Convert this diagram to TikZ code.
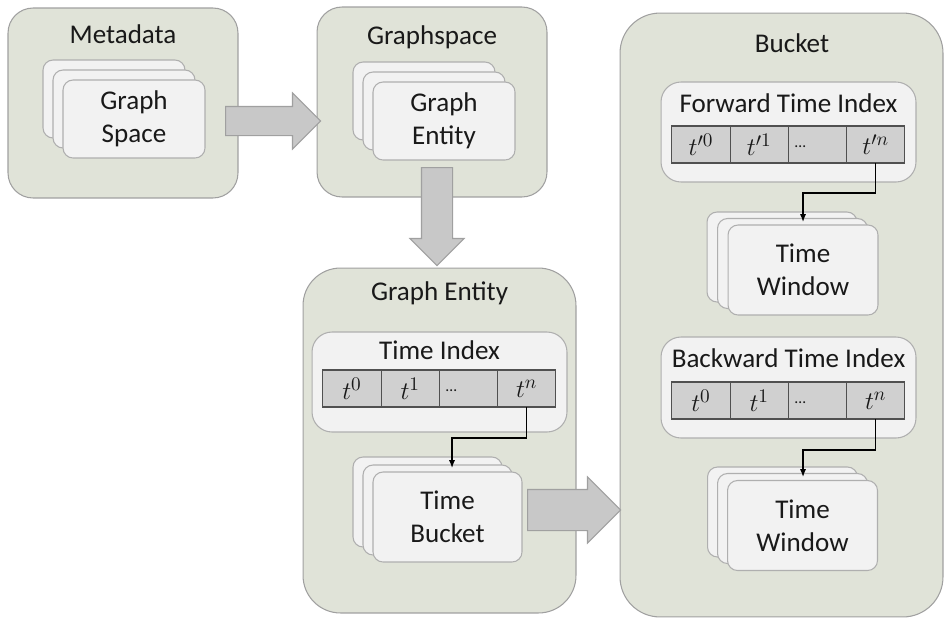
\documentclass[tikz,border=0pt]{standalone}
\usepackage{fontspec}
\setmainfont{Carlito}
\usetikzlibrary{positioning,shapes.arrows,arrows.meta}
\definecolor{boxfill}{RGB}{224,227,216}
\definecolor{boxline}{RGB}{160,160,160}
\definecolor{cardfill}{RGB}{242,242,242}
\definecolor{cardline}{RGB}{175,175,175}
\definecolor{cellfill}{RGB}{208,208,208}
\definecolor{cellline}{RGB}{80,80,80}
\definecolor{arrowfill}{RGB}{200,200,200}
\definecolor{arrowline}{RGB}{160,160,160}
\tikzset{
 outer/.style={draw=boxline,fill=boxfill,rounded corners=0.5cm,line width=0.6pt,inner sep=0pt},
 panel/.style={draw=cardline,fill=cardfill,rounded corners=0.4cm,line width=0.6pt,minimum width=5.1cm,minimum height=2cm},
 card/.style={draw=cardline,fill=cardfill,rounded corners=0.2cm,line width=0.6pt,align=center},
 cell/.style={draw=cellline,fill=cellfill,line width=0.6pt,minimum width=1.165cm,minimum height=0.74cm,inner sep=0pt,outer sep=0pt},
 dots/.style={cell,text width=0.9cm,align=left},
 fatarrow/.style={single arrow,draw=arrowline,fill=arrowfill,line width=0.6pt,inner xsep=0pt,minimum width=0pt,anchor=tail},
 link/.style={-{Latex[length=4.5pt,width=3.5pt]},line width=0.7pt},
 title/.style={inner sep=0pt}
}
\newcommand{\celldots}{\raisebox{-3pt}{\small …}}
\begin{document}
\begin{tikzpicture}[x=0.02cm,y=-0.02cm,font=\fontsize{15.4}{19}\selectfont,text=black!90]
 \useasboundingbox (0,0) rectangle (945,619);
 % outer boxes
 \node[outer,minimum width=4.6cm,minimum height=3.8cm] (meta) at (123,103) {};
 \node[outer,minimum width=4.6cm,minimum height=3.8cm] (gspace) at (432,102) {};
 \node[outer,minimum width=5.46cm,minimum height=6.9cm,rounded corners=0.75cm] (gentity) at (439.5,440.5) {};
 \node[outer,minimum width=6.46cm,minimum height=12.08cm,rounded corners=0.8cm] (bucket) at (781.5,315) {};
 \node[title] (metaT) at (123,34) {Metadata};
 \node[title] (gspaceT) at (432,37) {Graphspace};
 \node[title] (gentityT) at (439.5,293) {Graph Entity};
 \node[title] (bucketT) at (792,43) {Bucket};
 % Metadata
 \node[card,minimum width=2.84cm,minimum height=1.56cm] (gsp3) at (114,99) {};
 \node[card,minimum width=2.84cm,minimum height=1.56cm] (gsp2) at (124,109) {};
 \node[card,minimum width=2.84cm,minimum height=1.56cm] (gsp1) at (134,119) {Graph\\Space};
 % Graphspace
 \node[card,minimum width=2.84cm,minimum height=1.56cm] (gen3) at (424,101) {};
 \node[card,minimum width=2.84cm,minimum height=1.56cm] (gen2) at (434,111) {};
 \node[card,minimum width=2.84cm,minimum height=1.56cm] (gen1) at (444,121) {Graph\\Entity};
 % Graph Entity
 \node[panel] (tidx) at (439.5,382) {};
 \node[title] (tidxT) at (439.5,350) {Time Index};
 \node[cell] (ti1) at (352,388.5) {$t^{0}$};
 \node[cell,right=0pt of ti1] (ti2) {$t^{1}$};
 \node[dots,right=0pt of ti2] (ti3) {\celldots};
 \node[cell,right=0pt of ti3] (ti4) {$t^{n}$};
 \node[card,minimum width=2.98cm,minimum height=1.8cm] (tb3) at (427.5,502) {};
 \node[card,minimum width=2.98cm,minimum height=1.8cm] (tb2) at (437.5,510) {};
 \node[card,minimum width=2.98cm,minimum height=1.8cm] (tb1) at (447.5,517) {Time\\Bucket};
 \coordinate (tbin) at (452,468);
 \draw[link] (ti4.south) -- ++(0,31) -| (tbin);
 % Bucket
 \node[panel] (fidx) at (788.5,132) {};
 \node[title] (fidxT) at (788.5,103) {Forward Time Index};
 \node[cell] (fw1) at (701,144.5) {$t'^{0}$};
 \node[cell,right=0pt of fw1] (fw2) {$t'^{1}$};
 \node[dots,right=0pt of fw2] (fw3) {\celldots};
 \node[cell,right=0pt of fw3] (fw4) {$t'^{n}$};
 \node[card,minimum width=3cm,minimum height=1.8cm] (fwin3) at (782,257) {};
 \node[card,minimum width=3cm,minimum height=1.8cm] (fwin2) at (792.5,263.5) {};
 \node[card,minimum width=3cm,minimum height=1.8cm] (fwin1) at (803,270) {Time\\Window};
 \coordinate (fwinin) at (803,222);
 \draw[link] (fw4.south) -- ++(0,30) -| (fwinin);
 \node[panel,minimum height=2.02cm] (bidx) at (788.5,387.5) {};
 \node[title] (bidxT) at (788.5,358) {Backward Time Index};
 \node[cell] (bw1) at (701,400.5) {$t^{0}$};
 \node[cell,right=0pt of bw1] (bw2) {$t^{1}$};
 \node[dots,right=0pt of bw2] (bw3) {\celldots};
 \node[cell,right=0pt of bw3] (bw4) {$t^{n}$};
 \node[card,minimum width=3cm,minimum height=1.8cm] (bwin3) at (782.5,512) {};
 \node[card,minimum width=3cm,minimum height=1.8cm] (bwin2) at (792.5,518.5) {};
 \node[card,minimum width=3cm,minimum height=1.8cm] (bwin1) at (802.5,525.5) {Time\\Window};
 \coordinate (bwinin) at (803,477);
 \draw[link] (bw4.south) -- ++(0,31) -| (bwinin);
 % block arrows
 \node[fatarrow,inner ysep=0.28cm,single arrow head extend=0.27cm,minimum height=1.9cm] (a1) at (225,121) {};
 \node[fatarrow,inner ysep=0.3cm,single arrow head extend=0.23cm,minimum height=1.96cm,rotate=-90] (a2) at (437,167) {};
 \node[fatarrow,inner ysep=0.4cm,single arrow head extend=0.25cm,minimum height=1.86cm] (a3) at (527,510) {};
\end{tikzpicture}
\end{document}
